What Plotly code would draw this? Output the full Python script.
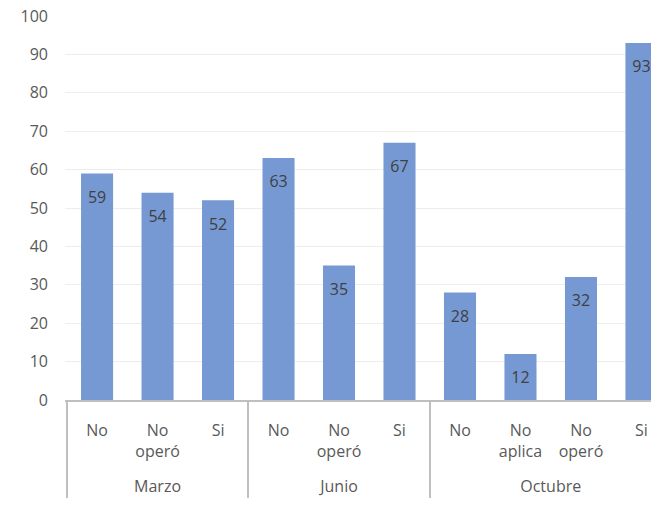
import plotly.graph_objects as go

meses = ["Marzo", "Marzo", "Marzo", "Junio", "Junio", "Junio",
         "Octubre", "Octubre", "Octubre", "Octubre"]
respuestas = ["No", "No<br>operó", "Si", "No", "No<br>operó", "Si",
              "No", "No<br>aplica", "No<br>operó", "Si"]
valores = [59, 54, 52, 63, 35, 67, 28, 12, 32, 93]

# plotly ordena las subcategorias por primera aparicion: se pasan en este orden
orden = [0, 3, 6, 7, 1, 2, 4, 5, 8, 9]
x_mes = [meses[i] for i in orden]
# linea vacia al final para separar los meses de las respuestas
relleno = "<br><span style='font-size:34px'>\u00a0</span>"
x_resp = [respuestas[i] + relleno for i in orden]
y_val = [valores[i] for i in orden]

fig = go.Figure()
fig.add_trace(go.Bar(
    x=[x_mes, x_resp],
    y=y_val,
    marker_color="#7699D4",
    marker_line_width=0,
    hoverinfo="skip",
))
# etiquetas de datos dentro de la barra
fig.add_trace(go.Scatter(
    x=[x_mes, x_resp],
    y=y_val,
    mode="markers+text",
    marker=dict(size=26, color="rgba(0,0,0,0)"),
    text=[str(v) for v in y_val],
    textposition="bottom center",
    textfont=dict(color="#404040", size=16),
    hoverinfo="skip",
))

# la pagina tiene 8px de margen: figura de 651x498
fig.update_layout(
    width=651, height=498,
    margin=dict(l=57, r=0, t=8, b=106),
    paper_bgcolor="white",
    plot_bgcolor="white",
    bargap=0.47,
    showlegend=False,
    font=dict(family="Open Sans, sans-serif", color="#595959", size=16),
)
fig.update_xaxes(
    range=[-0.53, 9.29],
    automargin=False,
    showline=True, linecolor="#BFBFBF", linewidth=2,
    showdividers=True, dividercolor="#BFBFBF", dividerwidth=2,
    tickfont=dict(size=16, color="#595959"),
    ticklabelstandoff=15,
    ticklabeloverflow="allow",
)
fig.update_yaxes(
    range=[0, 100], dtick=10,
    automargin=False,
    showgrid=True, gridcolor="#EDEDED", gridwidth=1,
    zeroline=False,
    tickfont=dict(size=16, color="#595959"),
    ticklabelstandoff=16,
    ticklabeloverflow="allow",
)

fig.write_html("out.html")
